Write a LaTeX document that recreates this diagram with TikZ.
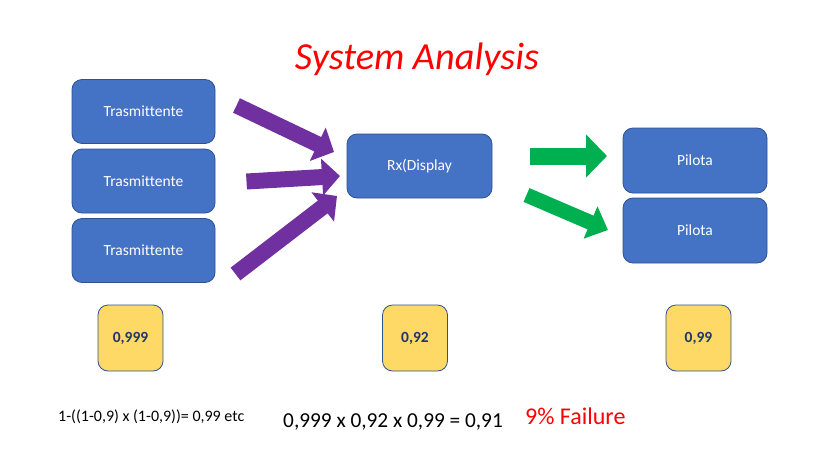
\documentclass[tikz,border=0pt]{standalone}
\usepackage{fontspec}
\setmainfont[Ligatures=NoCommon]{Carlito}
\usetikzlibrary{arrows.meta}
\definecolor{boxblue}{HTML}{4472C4}
\definecolor{boxedge}{HTML}{2F528F}
\definecolor{yel}{HTML}{FFD966}
\definecolor{navy}{HTML}{1F3864}
\definecolor{purp}{HTML}{7030A0}
\definecolor{grn}{HTML}{00B050}
\definecolor{tred}{HTML}{FF0000}
\tikzset{
  bluebox/.style={draw=boxedge, line width=0.8pt, fill=boxblue, rounded corners=10pt,
    minimum width=143pt, minimum height=64pt, text=white, font=\fontsize{15.5}{18}\selectfont, inner sep=0pt},
  yelbox/.style={draw=boxedge, line width=0.8pt, fill=yel, rounded corners=10pt,
    minimum width=65pt, minimum height=66pt, text=navy, font=\bfseries\fontsize{15.5}{18}\selectfont, inner sep=0pt},
  purparrow/.style={draw=purp, line width=16pt, -{Triangle[length=18pt,width=36pt]}},
  grnarrow/.style={draw=grn, line width=17pt, -{Triangle[length=21pt,width=42pt]}},
  grnarrowb/.style={draw=grn, line width=15pt, -{Triangle[length=19pt,width=34pt]}},
  plain/.style={inner sep=0pt, anchor=west}
}
\begin{document}
\begin{tikzpicture}[x=1pt,y=-1pt]
\useasboundingbox (0,0) rectangle (840,458);
\node[font=\itshape\fontsize{38.3}{40}\selectfont, text=tred, inner sep=0pt] (title) at (417,59) {System Analysis};
\node[bluebox] (t1) at (143.5,111.5) {Trasmittente};
\node[bluebox] (t2) at (143.5,181) {Trasmittente};
\node[bluebox] (t3) at (143.5,250.5) {Trasmittente};
\node[bluebox, minimum width=145pt] (rx) at (419.5,166) {Rx(Display};
\node[bluebox, minimum width=144pt, minimum height=65pt] (p1) at (695,160.5) {Pilota};
\node[bluebox, minimum width=144pt, minimum height=65pt] (p2) at (695,230.5) {Pilota};
\node[yelbox] (y1) at (130.5,338) {0,999};
\node[yelbox] (y2) at (415,338) {0,92};
\node[yelbox] (y3) at (698.5,338) {0,99};
% arrow end points
\coordinate (a1s) at (236.5,105.5); \coordinate (a1e) at (334,152);
\coordinate (a2s) at (246.5,181.5); \coordinate (a2e) at (340,176);
\coordinate (a3s) at (235.5,274);   \coordinate (a3e) at (337,196);
\coordinate (g1s) at (530,156);     \coordinate (g1e) at (607,156);
\coordinate (g2s) at (526.5,195);   \coordinate (g2e) at (608,230);
\draw[purparrow] (a1s) -- (a1e);
\draw[purparrow] (a2s) -- (a2e);
\draw[purparrow] (a3s) -- (a3e);
\draw[grnarrow] (g1s) -- (g1e);
\draw[grnarrowb] (g2s) -- (g2e);
\node[plain, font=\fontsize{16}{18}\selectfont] (f1) at (58,417) {1-((1-0,9) x (1-0,9))= 0,99 etc};
\node[plain, font=\fontsize{21.3}{24}\selectfont] (f2) at (283,422) {0,999 x 0,92 x 0,99 = 0,91};
\node[plain, font=\fontsize{24}{26}\selectfont, text=tred] (f3) at (525,416) {9\% Failure};
\end{tikzpicture}
\end{document}
